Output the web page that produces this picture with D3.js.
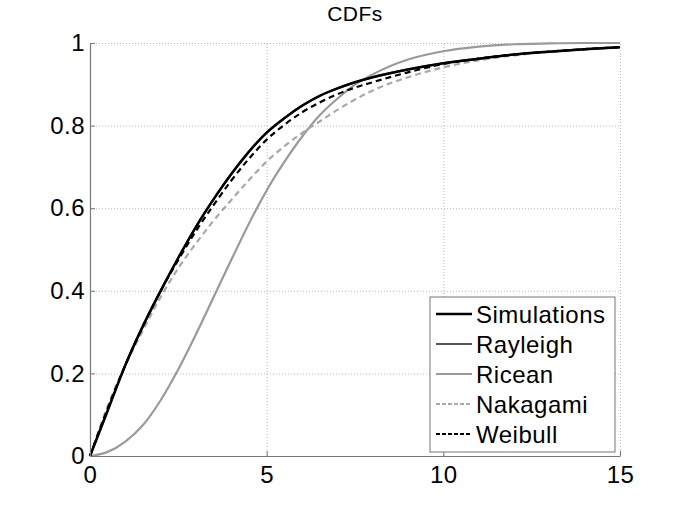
<!DOCTYPE html>
<html>
<head>
<meta charset="utf-8">
<script src="https://cdn.jsdelivr.net/npm/d3@7"></script>
<style>
  body { margin: 0; background: #fff; }
  text { font-family: "Liberation Sans", Arial, sans-serif; }
</style>
</head>
<body>
<svg id="chart"></svg>
<script>
// x samples shared by every curve
var xs = [0, 0.5, 1, 1.5, 2, 2.5, 3, 3.5, 4, 4.5, 5, 5.5, 6, 6.5, 7, 7.5, 8, 9, 10, 11, 12, 13, 14, 15];

// CDF values
var simulations = [0, 0.11, 0.22, 0.315, 0.4, 0.48, 0.555, 0.622, 0.683, 0.737, 0.783, 0.818, 0.848, 0.872, 0.89, 0.905, 0.917, 0.936, 0.951, 0.962, 0.972, 0.979, 0.985, 0.99];
var rayleigh    = [0, 0.11, 0.22, 0.315, 0.4, 0.48, 0.555, 0.622, 0.683, 0.737, 0.783, 0.818, 0.848, 0.872, 0.89, 0.905, 0.917, 0.936, 0.951, 0.962, 0.972, 0.979, 0.985, 0.99];
var ricean      = [0, 0.01, 0.035, 0.075, 0.135, 0.21, 0.295, 0.385, 0.475, 0.563, 0.643, 0.712, 0.773, 0.825, 0.865, 0.899, 0.924, 0.96, 0.98, 0.991, 0.997, 0.999, 1, 1];
var nakagami    = [0, 0.12, 0.22, 0.305, 0.385, 0.455, 0.515, 0.57, 0.62, 0.668, 0.713, 0.75, 0.782, 0.81, 0.838, 0.863, 0.885, 0.917, 0.941, 0.958, 0.97, 0.979, 0.985, 0.99];
var weibull     = [0, 0.115, 0.22, 0.315, 0.4, 0.475, 0.545, 0.608, 0.667, 0.72, 0.766, 0.802, 0.832, 0.856, 0.876, 0.892, 0.905, 0.929, 0.949, 0.962, 0.972, 0.979, 0.985, 0.99];

var xTicks = [0, 5, 10, 15];
var yTicks = [0, 0.2, 0.4, 0.6, 0.8, 1];
var yTickLabels = ['0', '0.2', '0.4', '0.6', '0.8', '1'];

var names = ['Simulations', 'Rayleigh', 'Ricean', 'Nakagami', 'Weibull'];
var series = [simulations, rayleigh, ricean, nakagami, weibull];

// styles for each series, same order as names
var colors = ['#000000', '#555555', '#9a9a9a', '#a8a8a8', '#000000'];
var widths = [2.5, 2.2, 2.2, 2.2, 2.2];
var dashes = [null, null, null, '6,4', '6,4'];

var W = 685, H = 513;
var margin = {top: 43, right: 65, bottom: 57, left: 90};
var width = W - margin.left - margin.right;
var height = H - margin.top - margin.bottom;

var svg = d3.select('#chart')
    .attr('width', W)
    .attr('height', H);

var g = svg.append('g')
    .attr('transform', 'translate(' + margin.left + ',' + margin.top + ')');

var x = d3.scaleLinear().domain([0, 15]).range([0, width]);
var y = d3.scaleLinear().domain([0, 1]).range([height, 0]);

// dotted grid
g.append('g')
    .attr('transform', 'translate(0,' + height + ')')
    .call(d3.axisBottom(x).tickValues(xTicks.slice(1)).tickSize(-height).tickFormat(''))
    .call(function(s){ s.select('.domain').remove(); })
    .selectAll('line')
        .attr('stroke', '#bbbbbb')
        .attr('stroke-dasharray', '1,2');
g.append('g')
    .call(d3.axisLeft(y).tickValues(yTicks.slice(1)).tickSize(-width).tickFormat(''))
    .call(function(s){ s.select('.domain').remove(); })
    .selectAll('line')
        .attr('stroke', '#bbbbbb')
        .attr('stroke-dasharray', '1,2');

// curves, drawn back to front so Simulations sits on top
var line = d3.line()
    .x(function(d){ return x(d.x); })
    .y(function(d){ return y(d.y); })
    .curve(d3.curveMonotoneX);

var order = [1, 2, 3, 4, 0];
order.forEach(function(i){
    var xy = xs.map(function(v, j){ return {x: v, y: series[i][j]}; });
    g.append('path')
        .datum(xy)
        .attr('fill', 'none')
        .attr('stroke', colors[i])
        .attr('stroke-width', widths[i])
        .attr('stroke-dasharray', dashes[i])
        .attr('d', line);
});

// axes (ticks point inward like matlab)
var xAxis = g.append('g')
    .attr('transform', 'translate(0,' + height + ')')
    .call(d3.axisBottom(x).tickValues(xTicks).tickSize(-5).tickPadding(10).tickSizeOuter(0));
var yAxis = g.append('g')
    .call(d3.axisLeft(y).tickValues(yTicks).tickSize(-5).tickPadding(5).tickSizeOuter(0)
        .tickFormat(function(d, i){ return yTickLabels[i]; }));

[xAxis, yAxis].forEach(function(a){
    a.select('.domain').attr('stroke', '#777').attr('stroke-width', 1.2);
    a.selectAll('.tick line').attr('stroke', '#777');
    a.selectAll('.tick text')
        .attr('fill', '#000')
        .style('font-size', '24px')
        .style('letter-spacing', '0.5px')
        .style('font-family', '"Liberation Sans", Arial, sans-serif');
});
xAxis.selectAll('.tick text').attr('dy', '0.71em');

// title
svg.append('text')
    .attr('x', margin.left + width / 2)
    .attr('y', 21)
    .attr('text-anchor', 'middle')
    .style('font-size', '21px')
    .style('letter-spacing', '0.5px')
    .text('CDFs');

// legend
var lg = g.append('g')
    .attr('transform', 'translate(' + (430 - margin.left) + ',' + (297 - margin.top) + ')');
lg.append('rect')
    .attr('width', 185)
    .attr('height', 155)
    .attr('fill', '#fff')
    .attr('stroke', '#777')
    .attr('stroke-width', 1);

names.forEach(function(name, i){
    var cy = 17 + i * 30;
    lg.append('line')
        .attr('x1', 6).attr('x2', 42)
        .attr('y1', cy).attr('y2', cy)
        .attr('stroke', colors[i])
        .attr('stroke-width', widths[i])
        .attr('stroke-dasharray', dashes[i] ? '4,2' : null);
    lg.append('text')
        .attr('x', 46)
        .attr('y', cy)
        .attr('dy', '0.36em')
        .style('font-size', '24px')
        .style('letter-spacing', '0.5px')
        .text(name);
});
</script>
</body>
</html>
